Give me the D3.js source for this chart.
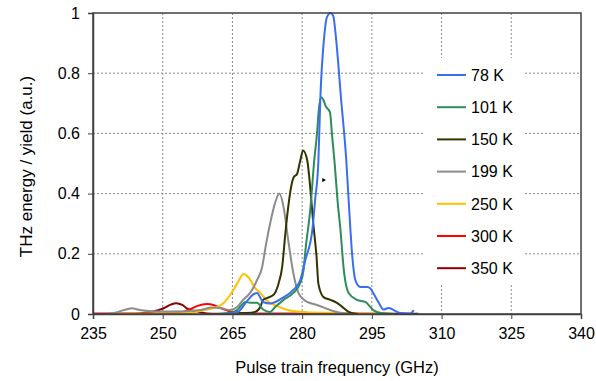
<!DOCTYPE html>
<html>
<head>
<meta charset="utf-8">
<script src="https://cdn.jsdelivr.net/npm/d3@7"></script>
<style>
  html, body { margin: 0; padding: 0; background: #fff; }
  svg { display: block; font-family: "Liberation Sans", Arial, sans-serif; }
</style>
</head>
<body>
<svg id="chart" width="596" height="381"></svg>
<script>
// ---- data ----
const xTicks = [235, 250, 265, 280, 295, 310, 325, 340];
const yTicks = [0, 0.2, 0.4, 0.6, 0.8, 1];
const yTickLabels = ["0", "0.2", "0.4", "0.6", "0.8", "1"];
const seriesNames = ["78 K", "101 K", "150 K", "199 K", "250 K", "300 K", "350 K"];
const seriesColors = ["#3a6ef0", "#2e8b5a", "#333300", "#8c8c8c", "#ffc000", "#ff0000", "#8b0000"];

const s78 = [[262,0],[265,0.002],[266.3,0.008],[268,0.04],[269.5,0.065],[270.3,0.07],[271.6,0.04],[273.1,0.035],[275.7,0.053],[278.1,0.08],[279.6,0.113],[280.7,0.18],[282.2,0.28],[282.8,0.38],[283.5,0.51],[283.9,0.71],[284.8,0.93],[285.3,0.985],[286.1,1.0],[286.7,0.99],[287.2,0.93],[288.4,0.71],[289.5,0.51],[290.0,0.38],[290.8,0.19],[291.5,0.11],[292.5,0.09],[294.0,0.09],[294.7,0.085],[295.3,0.07],[296.4,0.04],[297.5,0.015],[298.6,0.02],[299.7,0.013],[301.2,0.003],[303.3,0.002],[304.0,0.013]];
const s101 = [[262,0],[264.5,0.004],[266.0,0.013],[267.0,0.03],[267.8,0.04],[268.8,0.037],[270.3,0.037],[271.6,0.015],[273.1,0.007],[274.2,0.023],[276.0,0.047],[278.1,0.07],[279.6,0.103],[280.3,0.146],[280.7,0.21],[281.8,0.355],[282.6,0.51],[283.2,0.6],[283.6,0.68],[284.1,0.72],[284.6,0.71],[285.1,0.69],[286.0,0.67],[286.4,0.6],[287.0,0.5],[287.6,0.38],[288.3,0.27],[288.9,0.156],[290.0,0.07],[291.8,0.047],[293.6,0.04],[294.7,0.023],[295.3,0.013],[297,0.003],[300,0]];
const s150 = [[262,0],[266,0.002],[268,0.003],[269.9,0.007],[271.0,0.023],[271.6,0.047],[272.4,0.053],[273.8,0.063],[274.9,0.1],[275.7,0.156],[276.4,0.27],[277.0,0.355],[277.8,0.435],[278.2,0.455],[278.9,0.465],[279.6,0.51],[280.2,0.543],[281.1,0.51],[281.8,0.41],[282.4,0.3],[283.1,0.19],[283.5,0.1],[284.6,0.056],[286.1,0.047],[287.5,0.037],[288.9,0.02],[290.0,0.007],[292,0]];
const s199 = [[238,0],[239.7,0.004],[241,0.01],[242.3,0.016],[243.3,0.019],[245.1,0.013],[248.7,0.008],[252.2,0.008],[258.1,0.013],[260.6,0.022],[262.7,0.019],[264.5,0.013],[266.0,0.023],[267.3,0.047],[268.8,0.07],[270.3,0.113],[271.4,0.156],[272.1,0.22],[273.1,0.3],[274.2,0.37],[275.1,0.40],[276.0,0.355],[277.0,0.246],[278.1,0.136],[279.2,0.07],[280.2,0.05],[281.1,0.04],[283.2,0.03],[286.1,0.013],[288.2,0.004],[291,0]];
const s250 = [[240,0],[250,0.002],[255,0.003],[257,0.006],[259,0.013],[261,0.02],[263,0.035],[264.5,0.063],[266.0,0.1],[267.4,0.133],[268.4,0.123],[269.9,0.086],[271.0,0.07],[272.4,0.045],[274.6,0.026],[276.7,0.014],[278.9,0.008],[281.0,0.006],[286,0.004],[292,0.002],[300,0]];
const s300 = [[235,0.001],[250,0.002],[252.2,0.003],[254.4,0.007],[255.9,0.016],[257.5,0.027],[259.5,0.033],[260.9,0.03],[262.4,0.02],[264.5,0.008],[266.7,0.003],[270,0.001],[280,0.001],[290,0.003],[292,0.001],[300,0]];
const s350 = [[235,0.001],[243,0.001],[245.1,0.002],[248.0,0.008],[250.2,0.019],[251.7,0.031],[252.9,0.036],[254.2,0.03],[255.2,0.019],[257.3,0.008],[259.5,0.002],[262,0.001],[305,0.001]];
const seriesData = [s78, s101, s150, s199, s250, s300, s350];
const strayMarker = [284.6, 0.445];

// ---- layout ----
const W = 596, H = 381;
const M = { left: 93, right: 15, top: 13, bottom: 67 };
const svg = d3.select("#chart");
const x = d3.scaleLinear().domain([235, 340]).range([M.left, W - M.right]);
const y = d3.scaleLinear().domain([0, 1]).range([H - M.bottom, M.top]);

// gridlines
const grid = svg.append("g");
grid.selectAll("line.h").data(yTicks.filter(d => d > 0 && d < 1)).join("line")
  .attr("x1", M.left).attr("x2", W - M.right)
  .attr("y1", d => y(d)).attr("y2", d => y(d))
  .attr("stroke", "#8a8a8a").attr("stroke-width", 1).attr("stroke-dasharray", "2,2");
grid.selectAll("line.v").data(xTicks.filter(d => d > 235 && d < 340)).join("line")
  .attr("y1", M.top).attr("y2", H - M.bottom)
  .attr("x1", d => x(d)).attr("x2", d => x(d))
  .attr("stroke", "#8a8a8a").attr("stroke-width", 1).attr("stroke-dasharray", "2,2");

// series lines
const line = d3.line().x(d => x(d[0])).y(d => y(d[1])).curve(d3.curveMonotoneX);
const plot = svg.append("g");
seriesData.map((d, i) => i).reverse().forEach(i => {
  plot.append("path").datum(seriesData[i])
    .attr("d", line).attr("fill", "none")
    .attr("stroke", seriesColors[i]).attr("stroke-width", 2)
    .attr("stroke-linejoin", "round");
});

// stray tiny marker
svg.append("path")
  .attr("d", d3.symbol(d3.symbolTriangle, 8)())
  .attr("transform", `translate(${x(strayMarker[0])},${y(strayMarker[1])}) rotate(-30)`)
  .attr("fill", "#000");

// frame
svg.append("rect").attr("x", M.left).attr("y", M.top)
  .attr("width", W - M.left - M.right).attr("height", H - M.top - M.bottom)
  .attr("fill", "none").attr("stroke", "#404040").attr("stroke-width", 1.5);

// axes
const xAxis = d3.axisBottom(x).tickValues(xTicks).tickSize(5).tickPadding(9).tickFormat(d3.format("d"));
const gx = svg.append("g").attr("transform", `translate(0,${H - M.bottom})`).call(xAxis);
const yAxis = d3.axisLeft(y).tickValues(yTicks).tickSize(5).tickPadding(8).tickFormat((d, i) => yTickLabels[i]);
const gy = svg.append("g").attr("transform", `translate(${M.left},0)`).call(yAxis);
[gx, gy].forEach(g => {
  g.select(".domain").attr("stroke", "#404040").attr("stroke-width", 1.5);
  g.selectAll(".tick line").attr("stroke", "#404040");
  g.selectAll(".tick text").attr("fill", "#000").style("font-size", "16px").style("font-family", "'Liberation Sans', Arial, sans-serif");
});

// axis titles
svg.append("text").attr("x", (M.left + W - M.right) / 2).attr("y", 373)
  .attr("text-anchor", "middle").style("font-size", "16.5px").text("Pulse train frequency (GHz)");
svg.append("text").attr("transform", `translate(32,${(M.top + H - M.bottom) / 2 + 3}) rotate(-90)`)
  .attr("text-anchor", "middle").style("font-size", "17px").text("THz energy / yield (a.u.)");

// legend
const lg = svg.append("g");
lg.append("rect").attr("x", 425).attr("y", 58).attr("width", 100).attr("height", 227).attr("fill", "#fff");
seriesNames.forEach((name, i) => {
  const yy = 75 + i * 32.2;
  lg.append("line").attr("x1", 437).attr("x2", 466).attr("y1", yy).attr("y2", yy)
    .attr("stroke", seriesColors[i]).attr("stroke-width", 2);
  lg.append("text").attr("x", 471).attr("y", yy).attr("dy", "0.36em")
    .style("font-size", "16px").text(name);
});
</script>
</body>
</html>
